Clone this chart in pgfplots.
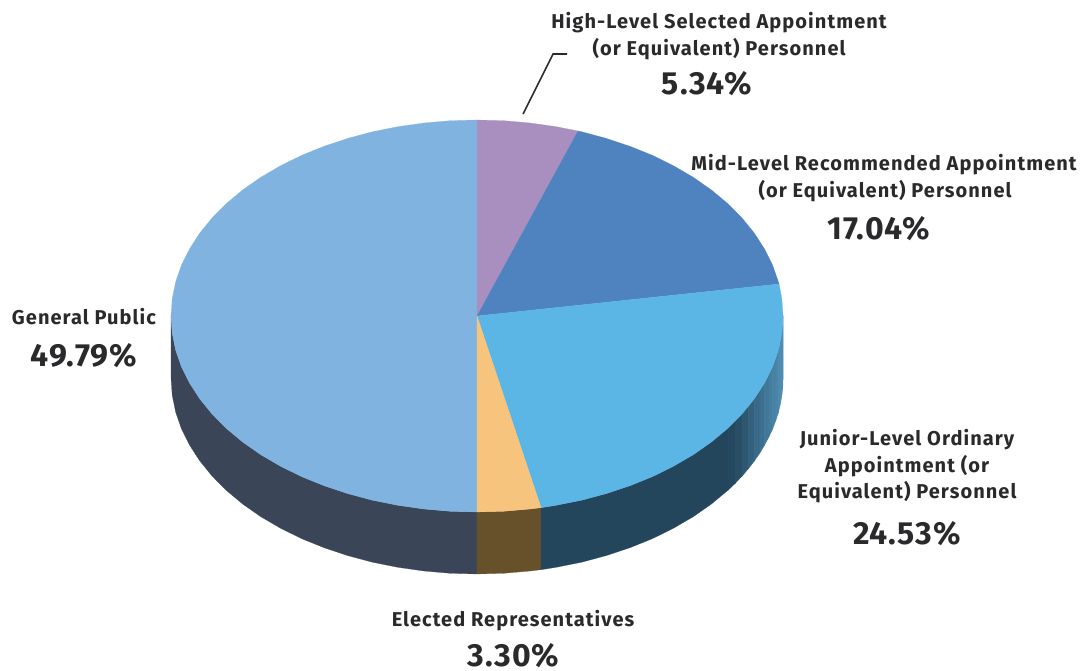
\documentclass[border=0pt]{standalone}
\usepackage{fontspec}
\setmainfont[LetterSpace=5.3]{Fira Sans}
\newfontfamily\pctfont[LetterSpace=3.2]{Fira Sans}
\usepackage{pgfplots}
\pgfplotsset{compat=1.18}
\definecolor{cGen}{HTML}{80B3DF}
\definecolor{cPur}{HTML}{A98FC0}
\definecolor{cBlu}{HTML}{4F83BF}
\definecolor{cLig}{HTML}{5BB6E6}
\definecolor{cOra}{HTML}{F6C47C}
\definecolor{wGen}{HTML}{3A4658}
\definecolor{wOra}{HTML}{66512B}
\definecolor{wLig}{HTML}{23465C}
\definecolor{wHi}{HTML}{4F8EB4}
\definecolor{txt}{HTML}{2A2A2C}
\newcommand{\lab}[3]{\node[anchor=base,text=txt,font=\fontsize{20}{20}\selectfont\bfseries,inner sep=0pt] at (axis cs:#1,#2) {#3};}
\newcommand{\pct}[3]{\node[anchor=base,text=txt,font=\pctfont\fontsize{32}{32}\selectfont\bfseries,inner sep=0pt] at (axis cs:#1,#2) {#3};}
\pgfplotsset{strip/.style={fill=wHi!#1!wLig,draw=wHi!#1!wLig,line width=0.5pt}}
\begin{document}
\begin{tikzpicture}
\path[use as bounding box] (0,0) rectangle (1085pt,671pt);
\begin{axis}[
  at={(0,0)},anchor=south west,
  width=1085pt,height=671pt,scale only axis,
  xmin=-477,xmax=608,ymin=-355,ymax=316,
  axis lines=none,clip=false,
]
% --- side walls
\addplot[fill=wGen,draw=wGen,line width=0.2pt] coordinates {
 (-306,0)(-304.8,-17.1)(-301.4,-34)(-295.6,-50.7)(-287.5,-67)(-277.3,-82.8)(-265,-98)(-250.7,-112.4)(-234.4,-126)(-216.4,-138.6)(-196.7,-150.1)(-175.5,-160.6)(-153,-169.7)(-129.3,-177.6)(-104.7,-184.2)(-79.2,-189.3)(-53.1,-193)(-26.7,-195.3)(0,-196)
 (0,-258)(-26.7,-257.3)(-53.1,-255)(-79.2,-251.3)(-104.7,-246.2)(-129.3,-239.6)(-153,-231.7)(-175.5,-222.6)(-196.7,-212.1)(-216.4,-200.6)(-234.4,-188)(-250.7,-174.4)(-265,-160)(-277.3,-144.8)(-287.5,-129)(-295.6,-112.7)(-301.4,-96)(-304.8,-79.1)(-306,-62)
} -- cycle;
\addplot[fill=wOra,draw=wOra,line width=0.2pt] coordinates {
 (0,-196)(26.7,-195.3)(53.1,-193)(64,-191.7)(64,-253.7)(53.1,-255)(26.7,-257.3)(0,-258)
} -- cycle;
\addplot[fill=wLig,draw=wLig,line width=0.2pt] coordinates {
 (64,-191.7)(79.2,-189.3)(104.7,-184.2)(129.3,-177.6)(153,-169.7)(175.5,-160.6)(196.7,-150.1)(216.4,-138.6)(234.4,-126)(250.7,-112.4)
 (250.7,-174.4)(234.4,-188)(216.4,-200.6)(196.7,-212.1)(175.5,-222.6)(153,-231.7)(129.3,-239.6)(104.7,-246.2)(79.2,-251.3)(64,-253.7)
} -- cycle;
% --- lighter strips of the right-hand wall
\addplot[strip=3] coordinates {(250.7,-112.4)(258.1,-105.3)(258.1,-167.3)(250.7,-174.4)} -- cycle;
\addplot[strip=13] coordinates {(258.1,-105.3)(265,-98)(265,-160)(258.1,-167.3)} -- cycle;
\addplot[strip=25] coordinates {(265,-98)(271.4,-90.5)(271.4,-152.5)(265,-160)} -- cycle;
\addplot[strip=37] coordinates {(271.4,-90.5)(277.3,-82.8)(277.3,-144.8)(271.4,-152.5)} -- cycle;
\addplot[strip=49] coordinates {(277.3,-82.8)(282.7,-75)(282.7,-137)(277.3,-144.8)} -- cycle;
\addplot[strip=59] coordinates {(282.7,-75)(287.5,-67)(287.5,-129)(282.7,-137)} -- cycle;
\addplot[strip=69] coordinates {(287.5,-67)(291.8,-58.9)(291.8,-120.9)(287.5,-129)} -- cycle;
\addplot[strip=76] coordinates {(291.8,-58.9)(295.6,-50.7)(295.6,-112.7)(291.8,-120.9)} -- cycle;
\addplot[strip=82] coordinates {(295.6,-50.7)(298.7,-42.4)(298.7,-104.4)(295.6,-112.7)} -- cycle;
\addplot[strip=88] coordinates {(298.7,-42.4)(301.4,-34)(301.4,-96)(298.7,-104.4)} -- cycle;
\addplot[strip=93] coordinates {(301.4,-34)(303.4,-25.6)(303.4,-87.6)(301.4,-96)} -- cycle;
\addplot[strip=96] coordinates {(303.4,-25.6)(304.8,-17.1)(304.8,-79.1)(303.4,-87.6)} -- cycle;
\addplot[strip=100] coordinates {(304.8,-17.1)(305.7,-8.6)(306,0)(306,-62)(305.7,-70.6)(304.8,-79.1)} -- cycle;
% --- top faces
\addplot[fill=cGen,draw=cGen,line width=0.2pt] coordinates {
 (0,0)(0,-196)(-26.7,-195.3)(-53.1,-193)(-79.2,-189.3)(-104.7,-184.2)(-129.3,-177.6)(-153,-169.7)(-175.5,-160.6)(-196.7,-150.1)(-216.4,-138.6)(-234.4,-126)(-250.7,-112.4)(-265,-98)(-277.3,-82.8)(-287.5,-67)(-295.6,-50.7)(-301.4,-34)(-304.8,-17.1)(-306,0)
 (-304.8,17.1)(-301.4,34)(-295.6,50.7)(-287.5,67)(-277.3,82.8)(-265,98)(-250.7,112.4)(-234.4,126)(-216.4,138.6)(-196.7,150.1)(-175.5,160.6)(-153,169.7)(-129.3,177.6)(-104.7,184.2)(-79.2,189.3)(-53.1,193)(-26.7,195.3)(0,196)
} -- cycle;
\addplot[fill=cPur,draw=cPur,line width=0.2pt] coordinates {
 (0,0)(0,196)(26.7,195.3)(53.1,193)(79.2,189.3)(101,185)
} -- cycle;
\addplot[fill=cBlu,draw=cBlu,line width=0.2pt] coordinates {
 (0,0)(101,185)(104.7,184.2)(129.3,177.6)(153,169.7)(175.5,160.6)(196.7,150.1)(216.4,138.6)(234.4,126)(250.7,112.4)(265,98)(277.3,82.8)(287.5,67)(295.6,50.7)(301.4,34)(302,32)
} -- cycle;
\addplot[fill=cLig,draw=cLig,line width=0.2pt] coordinates {
 (0,0)(302,32)(304.8,17.1)(306,0)(304.8,-17.1)(301.4,-34)(295.6,-50.7)(287.5,-67)(277.3,-82.8)(265,-98)(250.7,-112.4)(234.4,-126)(216.4,-138.6)(196.7,-150.1)(175.5,-160.6)(153,-169.7)(129.3,-177.6)(104.7,-184.2)(79.2,-189.3)(64,-191.7)
} -- cycle;
\addplot[fill=cOra,draw=cOra,line width=0.2pt] coordinates {
 (0,0)(64,-191.7)(53.1,-193)(26.7,-195.3)(0,-196)
} -- cycle;
% --- leader
\addplot[draw=txt,line width=1.6pt] coordinates {(46,202)(76,262)(90,262)};
% --- labels
\lab{242}{287.5}{High-Level Selected Appointment}
\lab{242}{260.5}{(or Equivalent) Personnel}
\pct{230}{221}{5.34\%}
\lab{407}{145.5}{Mid-Level Recommended Appointment}
\lab{408}{118.5}{(or Equivalent) Personnel}
\pct{402}{76}{17.04\%}
\lab{430}{-130}{Junior-Level Ordinary}
\lab{430}{-157}{Appointment (or}
\lab{430}{-183}{Equivalent) Personnel}
\pct{430}{-229}{24.53\%}
\lab{36}{-311}{Elected Representatives}
\pct{36.5}{-351}{3.30\%}
\lab{-393}{-8.5}{General Public}
\pct{-393}{-51}{49.79\%}
\end{axis}
\end{tikzpicture}
\end{document}
